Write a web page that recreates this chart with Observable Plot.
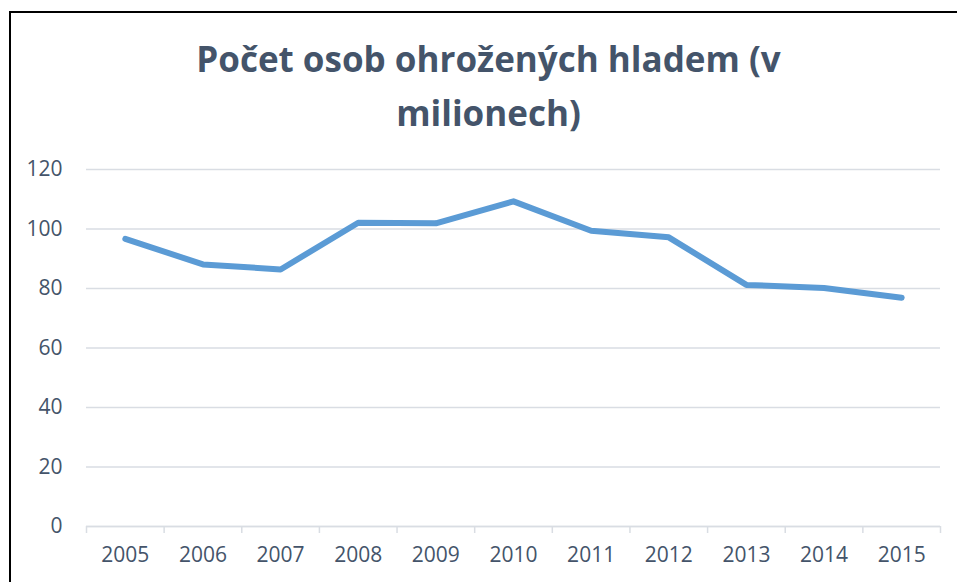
<!DOCTYPE html>
<html>
<head>
<meta charset="utf-8">
<script src="https://cdn.jsdelivr.net/npm/d3@7"></script>
<script src="https://cdn.jsdelivr.net/npm/@observablehq/plot@0.6"></script>
<style>
  html, body { margin: 0; padding: 0; background: #fff; }
  #frame { position: relative; width: 957px; height: 582px; overflow: hidden; background: #fff; }
  #border { position: absolute; left: 9px; top: 11px; right: -10px; bottom: -10px; border-left: 2px solid #000; border-top: 2px solid #000; }
  #title { position: absolute; left: 10px; width: 957px; top: 32px; text-align: center;
           font-family: "Open Sans", sans-serif; font-weight: 700; font-size: 35px; line-height: 54px; color: #44546a; }
  #chart { position: absolute; left: 0; top: 130px; }
</style>
</head>
<body>
<div id="frame">
  <div id="border"></div>
  <div id="title">Počet osob ohrožených hladem (v<br>milionech)</div>
  <div id="chart"></div>
</div>
<script>
const years = [2005, 2006, 2007, 2008, 2009, 2010, 2011, 2012, 2013, 2014, 2015];
const values = [96.7, 88.1, 86.4, 102.1, 101.9, 109.3, 99.4, 97.2, 81.2, 80.2, 76.9];
const yTicks = [0, 20, 40, 60, 80, 100, 120];
const boundaries = [2004.5, 2005.5, 2006.5, 2007.5, 2008.5, 2009.5, 2010.5, 2011.5, 2012.5, 2013.5, 2014.5, 2015.5];

const data = years.map((y, i) => ({year: y, value: values[i]}));

const chart = Plot.plot({
  width: 957,
  height: 452,
  marginLeft: 86,
  marginRight: 17,
  marginTop: 39,
  marginBottom: 56,
  style: {fontFamily: "Open Sans, sans-serif", fontSize: "21px", color: "#44546a", background: "transparent"},
  x: {type: "linear", domain: [2004.5, 2015.5]},
  y: {domain: [0, 120]},
  marks: [
    Plot.gridY(yTicks, {stroke: "#d9dde3", strokeOpacity: 1, strokeWidth: 1.5}),
    Plot.axisY(yTicks, {tickSize: 0, tickPadding: 24, label: null, fill: "#44546a", fontSize: 21}),
    Plot.ruleY([0], {stroke: "#d9dde3", strokeWidth: 1.5}),
    Plot.axisX(boundaries, {tickSize: 7, tickFormat: () => "", stroke: "#d9dde3", strokeWidth: 1.5, label: null}),
    Plot.axisX(years, {tickSize: 0, tickPadding: 21, tickFormat: d => String(d), label: null, fill: "#44546a", fontSize: 21}),
    Plot.lineY(data, {x: "year", y: "value", stroke: "#5b9bd5", strokeWidth: 6, strokeLinecap: "round", strokeLinejoin: "round"})
  ]
});
document.getElementById("chart").appendChild(chart);
</script>
</body>
</html>
